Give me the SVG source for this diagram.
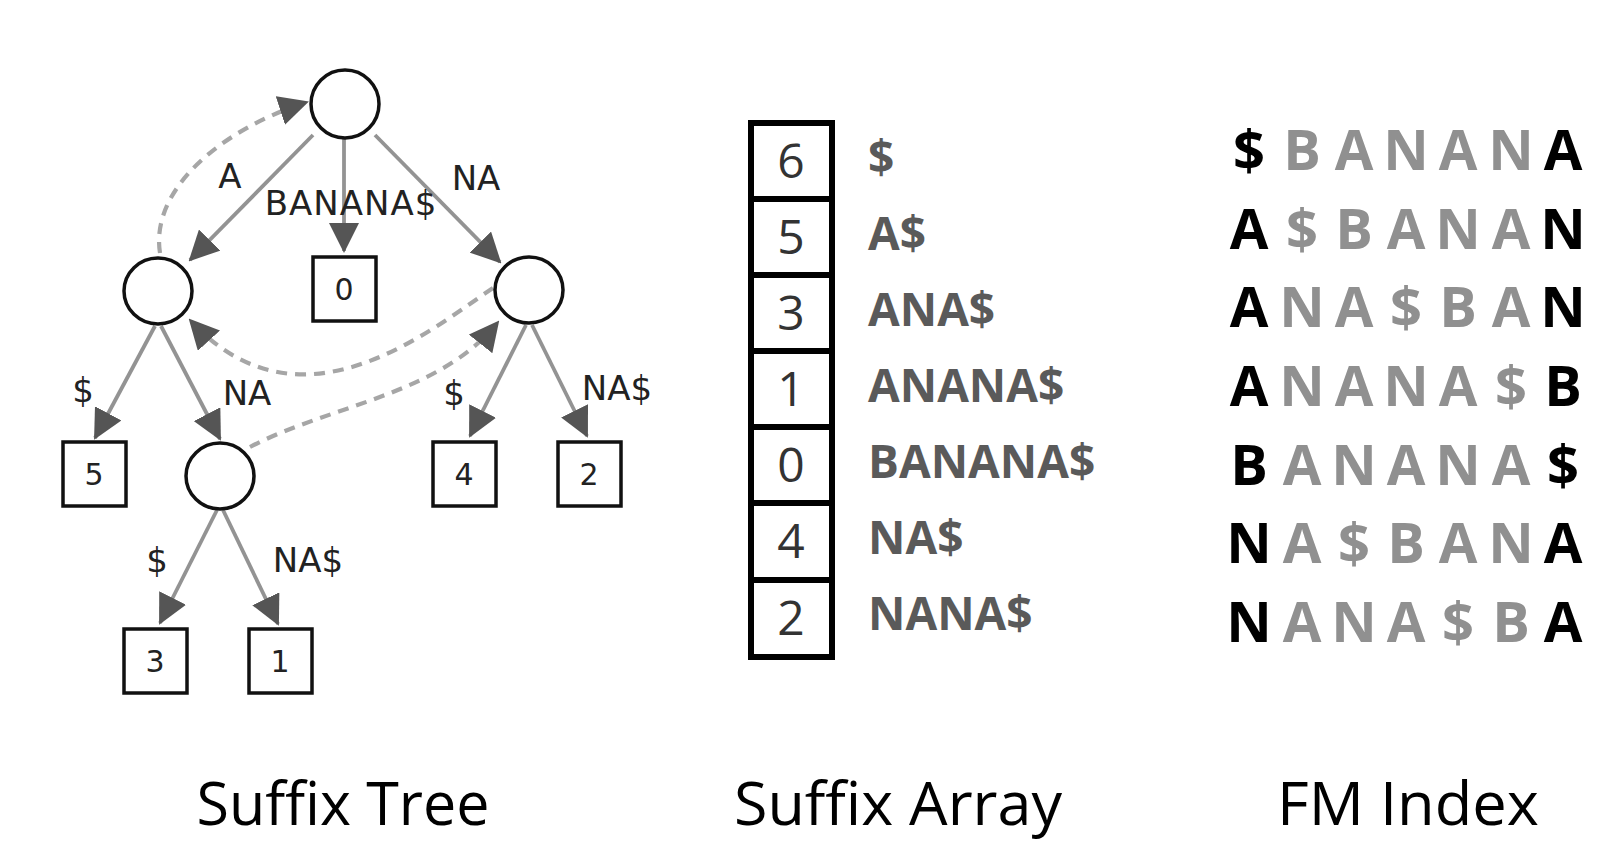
<svg xmlns="http://www.w3.org/2000/svg" width="1614" height="854" viewBox="0 0 1614 854">
<style>
.bg{fill:#fff}
.circ{fill:#fff;stroke:#111;stroke-width:3.5}
.box{fill:#fff;stroke:#111;stroke-width:3.5}
.edge{stroke:#939393;stroke-width:3.8;fill:none}
.dash{stroke:#a6a6a6;stroke-width:4.2;fill:none;stroke-dasharray:11 8}
.lbl{font-family:"DejaVu Sans",sans-serif;font-size:34px;fill:#222;text-anchor:middle}
.num{font-family:"DejaVu Sans",sans-serif;font-size:30px;fill:#222;text-anchor:middle}
.sa{fill:#fff;stroke:#000;stroke-width:6}
.sanum{font-family:"Open Sans",sans-serif;font-size:48px;fill:#333;text-anchor:middle}
.salbl{font-family:"Open Sans",sans-serif;font-weight:700;font-size:46px;fill:#5a5a5a}
.fm{font-family:"Open Sans",sans-serif;font-weight:700;font-size:56px;text-anchor:middle}
.k{fill:#000}
.g{fill:#909090}
.title{font-family:"Open Sans",sans-serif;font-size:60px;fill:#000;text-anchor:middle}
</style>
<defs>
<marker id="ah" markerUnits="userSpaceOnUse" markerWidth="30" markerHeight="30" viewBox="0 0 30 30" refX="28" refY="15" orient="auto">
<path d="M0,0 L30,15 L0,30 Z" fill="#555"/>
</marker>
</defs>
<rect class="bg" x="0" y="0" width="1614" height="854"/>

<g id="connectors">
<line class="edge" x1="313" y1="135" x2="190" y2="260" marker-end="url(#ah)"/>
<line class="edge" x1="344" y1="138" x2="344" y2="251" marker-end="url(#ah)"/>
<line class="edge" x1="375" y1="135" x2="500" y2="262" marker-end="url(#ah)"/>
<line class="edge" x1="155" y1="326" x2="95" y2="438" marker-end="url(#ah)"/>
<line class="edge" x1="161" y1="326" x2="220" y2="439" marker-end="url(#ah)"/>
<line class="edge" x1="526" y1="325" x2="470" y2="436" marker-end="url(#ah)"/>
<line class="edge" x1="532" y1="325" x2="587" y2="436" marker-end="url(#ah)"/>
<line class="edge" x1="217" y1="510" x2="160" y2="623" marker-end="url(#ah)"/>
<line class="edge" x1="223" y1="510" x2="278" y2="624" marker-end="url(#ah)"/>
<path class="dash" d="M160,253 C150,190 220,130 307,102" marker-end="url(#ah)"/>
<path class="dash" d="M493,288 C430,330 300,440 190,320" marker-end="url(#ah)"/>
<path class="dash" d="M250,447 C330,405 440,395 498,322" marker-end="url(#ah)"/>
<text class="lbl" x="230" y="188">A</text>
<text class="lbl" x="351" y="215" letter-spacing="1">BANANA$</text>
<text class="lbl" x="476" y="190">NA</text>
<text class="lbl" x="83" y="402">$</text>
<text class="lbl" x="247" y="405">NA</text>
<text class="lbl" x="454" y="405">$</text>
<text class="lbl" x="617" y="400">NA$</text>
<text class="lbl" x="157" y="572">$</text>
<text class="lbl" x="308" y="572">NA$</text>
</g>

<g id="n-root"><ellipse class="circ" cx="345" cy="104" rx="34" ry="34"/></g>
<g id="n-A"><ellipse class="circ" cx="158" cy="291" rx="34" ry="33"/></g>
<g id="n-NA"><ellipse class="circ" cx="529" cy="290" rx="34" ry="33"/></g>
<g id="n-ANA"><ellipse class="circ" cx="220" cy="476" rx="34" ry="33"/></g>
<g id="leaf0"><rect class="box" x="313" y="257" width="63" height="64"/><text class="num" x="344" y="300">0</text></g>
<g id="leaf5"><rect class="box" x="63" y="442" width="63" height="64"/><text class="num" x="94" y="485">5</text></g>
<g id="leaf4"><rect class="box" x="433" y="442" width="63" height="64"/><text class="num" x="464" y="485">4</text></g>
<g id="leaf2"><rect class="box" x="558" y="442" width="63" height="64"/><text class="num" x="589" y="485">2</text></g>
<g id="leaf3"><rect class="box" x="124" y="629" width="63" height="64"/><text class="num" x="155" y="672">3</text></g>
<g id="leaf1"><rect class="box" x="249" y="629" width="63" height="64"/><text class="num" x="280" y="672">1</text></g>

<g id="suffix-array">
<rect class="sa" x="751" y="123" width="81" height="76"/>
<rect class="sa" x="751" y="199" width="81" height="76"/>
<rect class="sa" x="751" y="275" width="81" height="76"/>
<rect class="sa" x="751" y="351" width="81" height="76"/>
<rect class="sa" x="751" y="427" width="81" height="76"/>
<rect class="sa" x="751" y="503" width="81" height="77"/>
<rect class="sa" x="751" y="580" width="81" height="77"/>
<text class="sanum" x="791" y="178">6</text>
<text class="sanum" x="791" y="254">5</text>
<text class="sanum" x="791" y="330">3</text>
<text class="sanum" x="791" y="406">1</text>
<text class="sanum" x="791" y="482">0</text>
<text class="sanum" x="791" y="558">4</text>
<text class="sanum" x="791" y="635">2</text>
<text class="salbl" x="868" y="174">$</text>
<text class="salbl" x="868" y="250">A$</text>
<text class="salbl" x="868" y="326">ANA$</text>
<text class="salbl" x="868" y="402">ANANA$</text>
<text class="salbl" x="868" y="478">BANANA$</text>
<text class="salbl" x="868" y="554">NA$</text>
<text class="salbl" x="868" y="630">NANA$</text>
</g>

<g id="fm-index" class="fm">
<text y="170"><tspan class="k" x="1249">$</tspan><tspan class="g" x="1302">B</tspan><tspan class="g" x="1354">A</tspan><tspan class="g" x="1406">N</tspan><tspan class="g" x="1458">A</tspan><tspan class="g" x="1511">N</tspan><tspan class="k" x="1563">A</tspan></text>
<text y="249"><tspan class="k" x="1249">A</tspan><tspan class="g" x="1302">$</tspan><tspan class="g" x="1354">B</tspan><tspan class="g" x="1406">A</tspan><tspan class="g" x="1458">N</tspan><tspan class="g" x="1511">A</tspan><tspan class="k" x="1563">N</tspan></text>
<text y="327"><tspan class="k" x="1249">A</tspan><tspan class="g" x="1302">N</tspan><tspan class="g" x="1354">A</tspan><tspan class="g" x="1406">$</tspan><tspan class="g" x="1458">B</tspan><tspan class="g" x="1511">A</tspan><tspan class="k" x="1563">N</tspan></text>
<text y="406"><tspan class="k" x="1249">A</tspan><tspan class="g" x="1302">N</tspan><tspan class="g" x="1354">A</tspan><tspan class="g" x="1406">N</tspan><tspan class="g" x="1458">A</tspan><tspan class="g" x="1511">$</tspan><tspan class="k" x="1563">B</tspan></text>
<text y="485"><tspan class="k" x="1249">B</tspan><tspan class="g" x="1302">A</tspan><tspan class="g" x="1354">N</tspan><tspan class="g" x="1406">A</tspan><tspan class="g" x="1458">N</tspan><tspan class="g" x="1511">A</tspan><tspan class="k" x="1563">$</tspan></text>
<text y="563"><tspan class="k" x="1249">N</tspan><tspan class="g" x="1302">A</tspan><tspan class="g" x="1354">$</tspan><tspan class="g" x="1406">B</tspan><tspan class="g" x="1458">A</tspan><tspan class="g" x="1511">N</tspan><tspan class="k" x="1563">A</tspan></text>
<text y="642"><tspan class="k" x="1249">N</tspan><tspan class="g" x="1302">A</tspan><tspan class="g" x="1354">N</tspan><tspan class="g" x="1406">A</tspan><tspan class="g" x="1458">$</tspan><tspan class="g" x="1511">B</tspan><tspan class="k" x="1563">A</tspan></text>
</g>

<g id="titles">
<text class="title" x="343" y="825" textLength="293" lengthAdjust="spacingAndGlyphs">Suffix Tree</text>
<text class="title" x="898" y="825" textLength="328" lengthAdjust="spacingAndGlyphs">Suffix Array</text>
<text class="title" x="1408" y="825" textLength="262" lengthAdjust="spacingAndGlyphs">FM Index</text>
</g>
</svg>
